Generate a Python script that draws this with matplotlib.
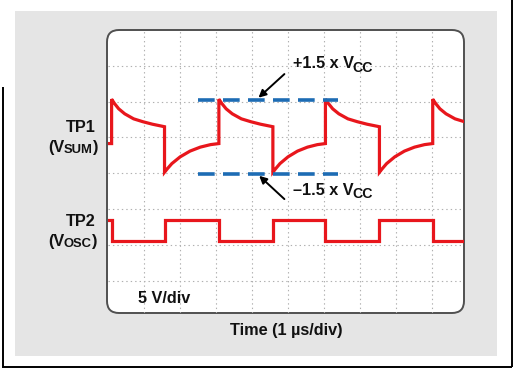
import matplotlib
matplotlib.use("Agg")
import matplotlib.pyplot as plt
from matplotlib.patches import FancyBboxPatch, Rectangle

# ---------------- data (in scope divisions) ----------------
edges = [0.10, 1.57, 3.08, 4.58, 6.04, 7.54, 9.02]   # transition times (µs)
decay_dx = [0, 0.08, 0.20, 0.37, 0.62, 0.88, 1.15, 1.49]
decay_y = [6.07, 5.95, 5.80, 5.66, 5.52, 5.44, 5.37, 5.30]
rise_dx = [0, 0.08, 0.20, 0.43, 0.70, 0.98, 1.26, 1.49]
rise_y = [4.03, 4.13, 4.27, 4.46, 4.62, 4.73, 4.80, 4.83]
tp2_high = 2.70
tp2_low = 2.10
vcc_pos = 6.04
vcc_neg = 3.98
vcc_x = [2.51, 6.40]

XMIN, XMAX = -0.014, 9.889
YMIN, YMAX = 0.10, 8.0

RED = "#e8161c"
BLUE = "#1d6cb4"
FONT = "Liberation Sans"
plt.rcParams["font.family"] = [FONT, "DejaVu Sans"]
plt.rcParams["font.weight"] = "bold"
plt.rcParams["lines.scale_dashes"] = False

W, H = 515, 372
fig = plt.figure(figsize=(W / 100, H / 100), dpi=100)
fig.patch.set_facecolor("white")

# background axes in pixel coordinates
bg = fig.add_axes([0, 0, 1, 1], zorder=0)
bg.set_xlim(0, W)
bg.set_ylim(H, 0)
bg.axis("off")
bg.add_patch(Rectangle((15, 11), 482, 345, facecolor="#e5e5e5", edgecolor="none"))
bg.add_patch(FancyBboxPatch((107, 30), 357, 283,
                            boxstyle="round,pad=0,rounding_size=12",
                            facecolor="white", edgecolor="#505050", lw=1.4))
bg.plot([2.7, 2.7], [87, 367], color="black", lw=1.4, solid_capstyle="butt")
bg.plot([2, 512], [366.5, 366.5], color="black", lw=1.4, solid_capstyle="butt")
bg.plot([511.5, 511.5], [0, 367], color="black", lw=1.4, solid_capstyle="butt")

FS = 11.7
SUBFS = 9.4
TXT = "#111111"


def with_sub(axx, x, y, pre, sub, post, ysub, fs=FS, sfs=SUBFS):
    t1 = axx.text(x, y, pre, fontsize=fs, color=TXT, ha="left", va="baseline")
    t2 = axx.annotate(sub, xy=(1, ysub), xycoords=(t1, "data"),
                      xytext=(-0.6, 0), textcoords="offset points",
                      fontsize=sfs, color=TXT, ha="left", va="baseline")
    if post:
        axx.annotate(post, xy=(1, y), xycoords=(t2, "data"),
                     xytext=(-0.7, 0), textcoords="offset points",
                     fontsize=fs, color=TXT, ha="left", va="baseline")


bg.text(95.7, 132, "TP1", fontsize=FS, color=TXT, ha="right", va="baseline")
with_sub(bg, 48.3, 152, "(V", "SUM", ")", 153)
bg.text(95.7, 226, "TP2", fontsize=FS, color=TXT, ha="right", va="baseline")
with_sub(bg, 48.3, 246, "(V", "OSC", ")", 247)
bg.text(285.8, 335, "Time (1 \u00b5s/div)", fontsize=FS, color=TXT,
        ha="center", va="baseline")

# scope screen axes
x0, x1, y0, y1 = 107.5, 464, 30, 313
ax = fig.add_axes([x0 / W, 1 - y1 / H, (x1 - x0) / W, (y1 - y0) / H], zorder=1)
ax.set_facecolor("none")
ax.set_xlim(XMIN, XMAX)
ax.set_ylim(YMIN, YMAX)
for s in ax.spines.values():
    s.set_visible(False)
ax.set_xticks(range(1, 10))
ax.set_yticks(range(1, 8))
ax.tick_params(length=0, labelbottom=False, labelleft=False)
ax.grid(True, color="#b0b0b0", lw=0.8, ls=(0, (1, 2.2)))

# TP1 waveform
xs = [XMIN, edges[0]]
ys = [rise_y[-1], rise_y[-1]]
for i, e in enumerate(edges):
    seg = edges[i + 1] - e if i + 1 < len(edges) else decay_dx[-1]
    dxs, yv = (decay_dx, decay_y) if i % 2 == 0 else (rise_dx, rise_y)
    scale = seg / dxs[-1]
    for d, v in zip(dxs, yv):
        xs.append(e + d * scale)
        ys.append(v)
ax.plot(xs, ys, color=RED, lw=2.3, solid_joinstyle="miter")

# TP2 square wave
sx = [XMIN] + edges + [XMAX + 0.1]
sy = [tp2_high if k % 2 == 0 else tp2_low for k in range(len(edges) + 1)] + [tp2_low]
ax.plot(sx, sy, color=RED, lw=2.3, drawstyle="steps-post", solid_joinstyle="miter")

# ±1.5 Vcc dashed levels
for lvl in (vcc_pos, vcc_neg):
    ax.plot(vcc_x, [lvl, lvl], color=BLUE, lw=2.6, dashes=(12, 6),
            dash_capstyle="butt")

# arrows and labels
ap = dict(arrowstyle="-|>", color="black", lw=1.4, mutation_scale=11,
          shrinkA=0, shrinkB=0)
ax.annotate("", xy=(4.18, 6.11), xytext=(4.90, 6.77), arrowprops=ap)
ax.annotate("", xy=(4.20, 3.93), xytext=(4.90, 3.28), arrowprops=ap)
with_sub(ax, 5.13, 6.93, "+1.5 x V", "CC", "", 6.84, sfs=10.2)
with_sub(ax, 5.13, 3.395, "\u20131.5 x V", "CC", "", 3.30, sfs=10.2)
ax.text(0.82, 0.372, "5 V/div", fontsize=FS, color=TXT, ha="left", va="baseline")

fig.savefig("out.png", dpi=100)
